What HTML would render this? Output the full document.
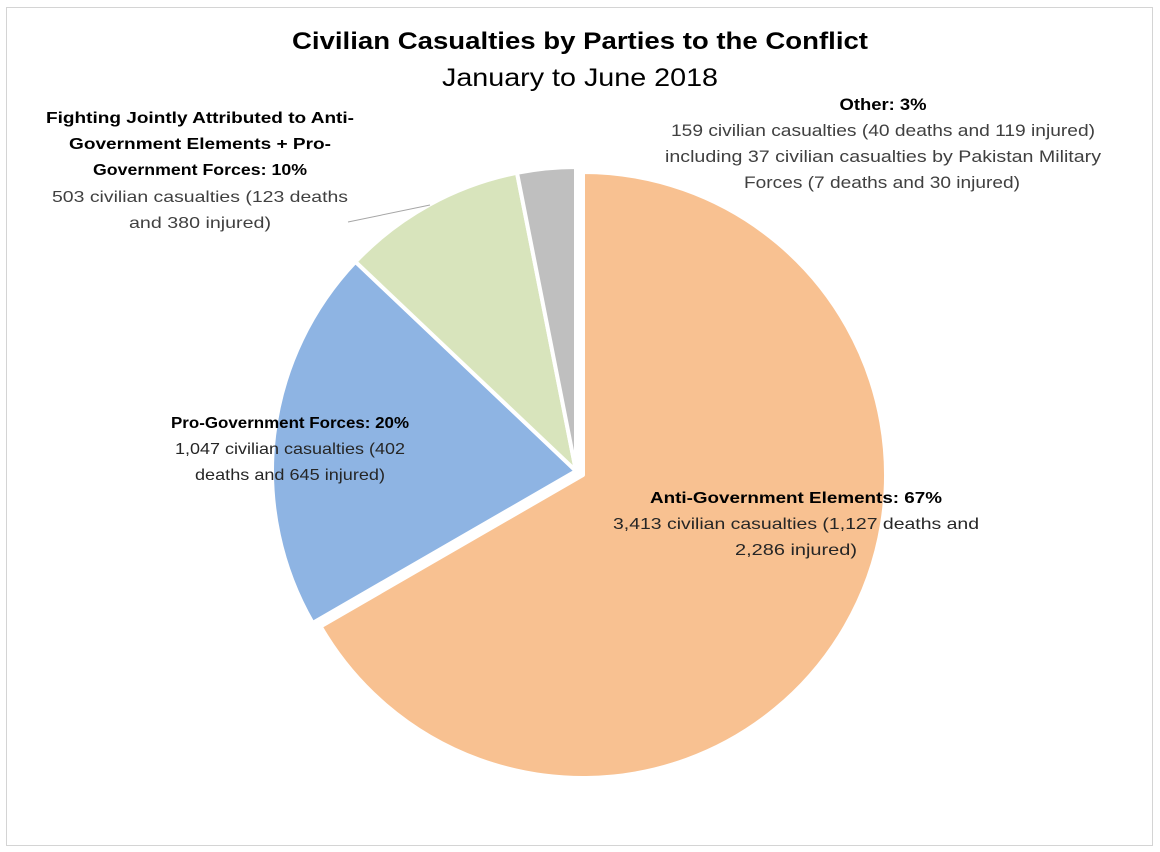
<!DOCTYPE html>
<html><head><meta charset="utf-8"><style>
body{margin:0;background:#fff;}
svg{display:block;font-family:"Liberation Sans",sans-serif;}
</style></head><body>
<svg width="1160" height="852" viewBox="0 0 1160 852">
<rect x="0" y="0" width="1160" height="852" fill="#fff"/>
<rect x="6.5" y="7.5" width="1146" height="838" fill="#fff" stroke="#d4d4d4" stroke-width="1"/>
<g stroke="#fff" stroke-width="4" stroke-linejoin="round">
<path d="M583,475 L583,172 A303,303 0 1 1 320.6,626.5 Z" fill="#F8C191"/>
<path d="M576,471 L312.7,623 A304,304 0 0 1 355.5,261.8 Z" fill="#8EB4E3"/>
<path d="M576,471 L355.5,261.8 A304,304 0 0 1 517,172.8 Z" fill="#D8E4BC"/>
<path d="M576,471 L517,172.8 A304,304 0 0 1 576,167 Z" fill="#BFBFBF"/>
</g>
<line x1="348" y1="222" x2="430" y2="205" stroke="#a6a6a6" stroke-width="1"/>
<g fill="#000" text-anchor="middle">
<text x="580" y="49" font-size="24" font-weight="bold" textLength="576" lengthAdjust="spacingAndGlyphs">Civilian Casualties by Parties to the Conflict</text>
<text x="580" y="86" font-size="25" textLength="276" lengthAdjust="spacingAndGlyphs">January to June 2018</text>
<g font-size="16">
<text x="200" y="123" font-weight="bold" textLength="308" lengthAdjust="spacingAndGlyphs">Fighting Jointly Attributed to Anti-</text>
<text x="200" y="149" font-weight="bold" textLength="262" lengthAdjust="spacingAndGlyphs">Government Elements + Pro-</text>
<text x="200" y="175" font-weight="bold" textLength="214" lengthAdjust="spacingAndGlyphs">Government Forces: 10%</text>
<text x="200" y="202" fill="#404040" textLength="296" lengthAdjust="spacingAndGlyphs">503 civilian casualties (123 deaths</text>
<text x="200" y="228" fill="#404040" textLength="142" lengthAdjust="spacingAndGlyphs">and 380 injured)</text>

<text x="883" y="110" font-weight="bold" font-size="17" textLength="87" lengthAdjust="spacingAndGlyphs">Other: 3%</text>
<text x="883" y="136" fill="#404040" font-size="17" textLength="424" lengthAdjust="spacingAndGlyphs">159 civilian casualties (40 deaths and 119 injured)</text>
<text x="883" y="162" fill="#404040" font-size="17" textLength="436" lengthAdjust="spacingAndGlyphs">including 37 civilian casualties by Pakistan Military</text>
<text x="882" y="188" fill="#404040" font-size="17" textLength="276" lengthAdjust="spacingAndGlyphs">Forces (7 deaths and 30 injured)</text>

<text x="290" y="428" font-weight="bold" textLength="238" lengthAdjust="spacingAndGlyphs">Pro-Government Forces: 20%</text>
<text x="290" y="454" fill="#262626" textLength="230" lengthAdjust="spacingAndGlyphs">1,047 civilian casualties (402</text>
<text x="290" y="480" fill="#262626" textLength="190" lengthAdjust="spacingAndGlyphs">deaths and 645 injured)</text>

<text x="796" y="503" font-weight="bold" textLength="292" lengthAdjust="spacingAndGlyphs">Anti-Government Elements: 67%</text>
<text x="796" y="529" fill="#262626" textLength="366" lengthAdjust="spacingAndGlyphs">3,413 civilian casualties (1,127 deaths and</text>
<text x="796" y="555" fill="#262626" textLength="122" lengthAdjust="spacingAndGlyphs">2,286 injured)</text>
</g>
</g>
</svg>
</body></html>
